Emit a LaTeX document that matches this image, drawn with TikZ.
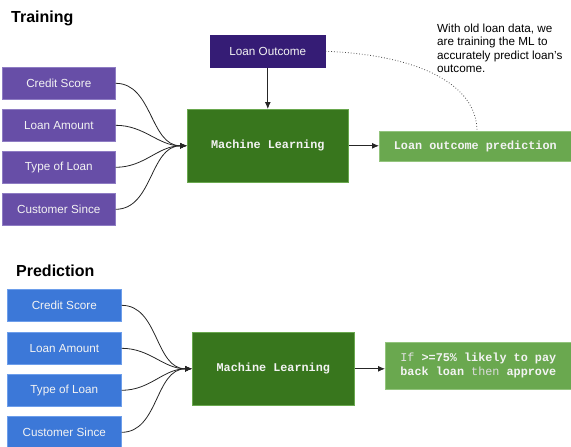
\documentclass[tikz,border=0pt]{standalone}
\usepackage{fontspec}
\setmainfont{Liberation Sans}
\setmonofont{Liberation Mono}
\usetikzlibrary{arrows.meta}
\definecolor{purp}{HTML}{674EA7}
\definecolor{purpedge}{HTML}{8E7CC3}
\definecolor{dpurp}{HTML}{351C75}
\definecolor{dgreen}{HTML}{38761D}
\definecolor{dgreenedge}{HTML}{6AA84F}
\definecolor{lgreen}{HTML}{6AA84F}
\definecolor{lgreenedge}{HTML}{93C47D}
\definecolor{blu}{HTML}{3C78D8}
\definecolor{bluedge}{HTML}{6D9EEB}
\definecolor{txtw}{HTML}{F3F3F3}
\begin{document}
\begin{tikzpicture}[x=1pt,y=-1pt,
  box/.style={anchor=north west, inner sep=0pt, line width=0.6pt, text=txtw,
    font=\fontsize{11.7}{13.5}\selectfont},
  inbox/.style={box, fill=purp, draw=purpedge, minimum width=113pt, minimum height=32pt},
  bbox/.style={box, fill=blu, draw=bluedge, minimum width=114pt, minimum height=32pt},
  mlbox/.style={box, fill=dgreen, draw=dgreenedge, minimum width=161pt, minimum height=73pt,
    font=\fontsize{11.8}{13.5}\selectfont\ttfamily\bfseries},
  outbox/.style={box, fill=lgreen, draw=lgreenedge, font=\fontsize{11.8}{14}\selectfont\ttfamily\bfseries},
  title/.style={anchor=base west, inner sep=0pt, font=\fontsize{16}{18}\selectfont\bfseries},
  conn/.style={draw=black!85, line width=0.8pt, -{Latex[length=7pt,width=6pt]}},
  curv/.style={conn, out=0, in=180}
]
\useasboundingbox (0,0) rectangle (571,447);

% ---------- Training ----------
\node[title] (t1) at (11,23) {Training};
\node[inbox] (cs1) at (2,67)  {Credit Score};
\node[inbox] (la1) at (2,109) {Loan Amount};
\node[inbox] (tl1) at (2,151) {Type of Loan};
\node[inbox] (cu1) at (2,193) {Customer Since};
\node[box, fill=dpurp, draw=dpurp, minimum width=115pt, minimum height=32pt] (lo) at (210,35) {Loan Outcome};
\node[mlbox] (ml1) at (187,109) {Machine Learning};
\node[outbox, minimum width=192pt, minimum height=30pt] (out1) at (379,131) {Loan outcome prediction};
\node[anchor=north west, inner sep=0pt, align=left, font=\fontsize{11.7}{13.3}\selectfont] (note) at (437,24)
  {With old loan data, we\\are training the ML to\\accurately predict loan's\\outcome.};

\foreach \n in {cs1,la1,tl1,cu1} \draw[curv] (\n.east) to (ml1.west);
\draw[conn] (lo.south) -- (ml1.north);
\draw[conn] (ml1.east) -- (ml1.east -| out1.west);
\coordinate (dend) at (477,131);
\draw[black!70, line width=0.8pt, dotted] (lo.east) .. controls (420,55) and (477,85) .. (dend);

% ---------- Prediction ----------
\node[title] (t2) at (16,276) {Prediction};
\node[bbox] (cs2) at (7,289)  {Credit Score};
\node[bbox] (la2) at (7,332) {Loan Amount};
\node[bbox] (tl2) at (7,374) {Type of Loan};
\node[bbox] (cu2) at (7,416) {Customer Since};
\node[mlbox, minimum width=162pt] (ml2) at (192,332) {Machine Learning};
\node[outbox, minimum width=186pt, minimum height=47pt, align=center] (out2) at (385,342)
  {{\mdseries\color{txtw!85!gray}If} >=75\% likely to pay\\back loan {\mdseries\color{txtw!80!gray}then} approve};

\foreach \n in {cs2,la2,tl2,cu2} \draw[curv] (\n.east) to (ml2.west);
\draw[conn] (ml2.east) -- (ml2.east -| out2.west);
\end{tikzpicture}
\end{document}
